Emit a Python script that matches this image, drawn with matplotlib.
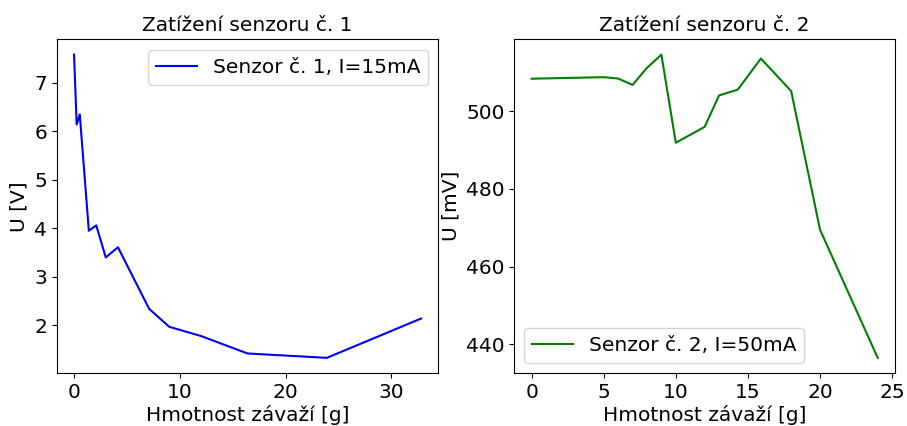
import matplotlib
matplotlib.use('Agg')
import matplotlib.pyplot as plt

# senzor c. 1, I = 15 mA
m1 = [0, 0.25, 0.54, 1.4, 2.1, 3.0, 4.15, 7.1, 9.0, 12.0, 16.4, 23.9, 32.8]
u1 = [7.58, 6.14, 6.35, 3.95, 4.06, 3.40, 3.61, 2.34, 1.97, 1.78, 1.42, 1.33, 2.14]

# senzor c. 2, I = 50 mA
m2 = [0, 5, 6, 7, 8, 9, 10, 12, 13, 14.3, 15.9, 18, 20, 24]
u2 = [508.4, 508.8, 508.45, 506.8, 511.2, 514.6, 491.9, 496.0, 504.1, 505.6,
      513.6, 505.2, 469.5, 436.5]

fs = 14.5
plt.rcParams['font.size'] = fs

fig = plt.figure(figsize=(9.07, 4.26), dpi=100)
ax1 = fig.add_axes([0.0625, 0.1244, 0.4208, 0.7829])
ax2 = fig.add_axes([0.567, 0.1244, 0.4198, 0.7829])

ax1.plot(m1, u1, color='blue', label='Senzor č. 1, I=15mA')
ax1.set_title('Zatížení senzoru č. 1', fontsize=fs)
ax1.set_xlabel('Hmotnost závaží [g]', labelpad=2)
ax1.set_ylabel('U [V]')
ax1.legend(loc='upper right')

ax2.plot(m2, u2, color='green', label='Senzor č. 2, I=50mA')
ax2.set_title('Zatížení senzoru č. 2', fontsize=fs)
ax2.set_xlabel('Hmotnost závaží [g]', labelpad=2)
ax2.set_ylabel('U [mV]')
ax2.legend(loc='lower left')

fig.savefig('out.png', dpi=100)
